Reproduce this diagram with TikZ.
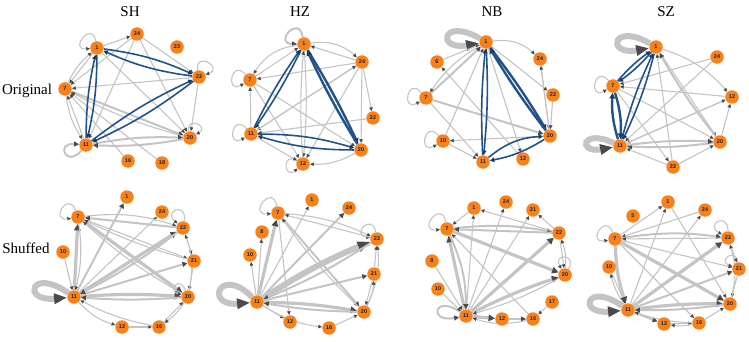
\documentclass[tikz,border=0pt]{standalone}
\usepackage{fontspec}
\setmainfont{Liberation Serif}
\setsansfont{Liberation Sans}
\usepackage{xcolor}
\usepackage{tikz}
\usetikzlibrary{arrows.meta,backgrounds}
\definecolor{netOrange}{HTML}{F7821B}
\definecolor{netGray}{HTML}{C4C4C4}
\definecolor{netTip}{HTML}{4A4A4A}
\definecolor{netBlue}{HTML}{22528A}
\definecolor{netInk}{HTML}{1E1E1E}
\begin{document}
\begin{tikzpicture}[
  x=1pt,y=-1pt,
  nd/.style={circle,fill=netOrange,inner sep=0pt,minimum size=13.5pt,font=\sffamily\bfseries\fontsize{5.5}{5.5}\selectfont,text=netInk},
  ttl/.style={font=\fontsize{15}{15}\selectfont,color=black},
  ed/.style={draw=netGray,line width=1.1pt,-{Triangle[length=3.8pt,width=3.4pt,color=netTip]}},
  edw/.style={draw=netGray,line width=2pt,-{Triangle[length=5pt,width=5pt,color=netTip]}},
  edx/.style={draw=netGray,line width=3.2pt,-{Triangle[length=6.5pt,width=6.5pt,color=netTip]}},
  edh/.style={draw=netGray,line width=6pt,-{Triangle[length=13pt,width=10pt,color=netTip]}},
  eb/.style={draw=netBlue,line width=1.6pt,-{Triangle[length=4.5pt,width=4.5pt,color=netBlue!70!black]}},
  ebw/.style={draw=netBlue,line width=2.4pt,-{Triangle[length=5.5pt,width=5.5pt,color=netBlue!70!black]}}
]
  \useasboundingbox (0,0) rectangle (749,342);
  % titles
  \node[ttl] (tSH) at (130,12) {SH};
  \node[ttl] (tHZ) at (300,12) {HZ};
  \node[ttl] (tNB) at (492,12) {NB};
  \node[ttl] (tSZ) at (666,12) {SZ};
  \node[ttl] (tOrig) at (27,91) {Original};
  \node[ttl] (tShuf) at (26,248) {Shuffed};

  % SH original
  \node[nd] (osh1) at (97,48) {1};
  \node[nd] (osh24) at (137,34) {24};
  \node[nd] (osh23) at (177,47) {23};
  \node[nd] (osh22) at (199,77) {22};
  \node[nd] (osh7) at (65,89) {7};
  \node[nd] (osh20) at (190,138) {20};
  \node[nd] (osh11) at (86,145) {11};
  \node[nd] (osh16) at (128,161) {16};
  \node[nd] (osh18) at (162,163) {18};
  % HZ original
  \node[nd] (ohz1) at (304,44) {1};
  \node[nd] (ohz24) at (362,62) {24};
  \node[nd] (ohz7) at (250,80) {7};
  \node[nd] (ohz22) at (373,118) {22};
  \node[nd] (ohz11) at (251,134) {11};
  \node[nd] (ohz20) at (361,150) {20};
  \node[nd] (ohz12) at (303,164) {12};
  % NB original
  \node[nd] (onb1) at (486,42) {1};
  \node[nd] (onb6) at (437,62) {6};
  \node[nd] (onb24) at (540,59) {24};
  \node[nd] (onb7) at (426,98) {7};
  \node[nd] (onb22) at (553,95) {22};
  \node[nd] (onb10) at (443,141) {10};
  \node[nd] (onb20) at (550,136) {20};
  \node[nd] (onb11) at (483,162) {11};
  \node[nd] (onb12) at (523,159) {12};
  % SZ original
  \node[nd] (osz1) at (656,47) {1};
  \node[nd] (osz24) at (717,57) {24};
  \node[nd] (osz7) at (613,86) {7};
  \node[nd] (osz12) at (732,97) {12};
  \node[nd] (osz20) at (720,142) {20};
  \node[nd] (osz11) at (620,146) {11};
  \node[nd] (osz22) at (673,167) {22};

  % SH shuffled
  \node[nd] (ssh1) at (127,197) {1};
  \node[nd] (ssh7) at (78,217) {7};
  \node[nd] (ssh24) at (162,212) {24};
  \node[nd] (ssh22) at (183,228) {22};
  \node[nd] (ssh10) at (63,252) {10};
  \node[nd] (ssh21) at (194,261) {21};
  \node[nd] (ssh11) at (74,297) {11};
  \node[nd] (ssh20) at (188,297) {20};
  \node[nd] (ssh12) at (122,327) {12};
  \node[nd] (ssh16) at (159,327) {16};
  % HZ shuffled
  \node[nd] (shz1) at (312,200) {1};
  \node[nd] (shz7) at (278,213) {7};
  \node[nd] (shz24) at (349,208) {24};
  \node[nd] (shz8) at (262,232) {8};
  \node[nd] (shz22) at (377,239) {22};
  \node[nd] (shz10) at (250,255) {10};
  \node[nd] (shz21) at (374,274) {21};
  \node[nd] (shz11) at (257,302) {11};
  \node[nd] (shz20) at (364,312) {20};
  \node[nd] (shz12) at (290,322) {12};
  \node[nd] (shz16) at (329,328) {16};
  % NB shuffled
  \node[nd] (snb1) at (474,208) {1};
  \node[nd] (snb24) at (506,202) {24};
  \node[nd] (snb21) at (533,210) {21};
  \node[nd] (snb7) at (447,229) {7};
  \node[nd] (snb22) at (559,233) {22};
  \node[nd] (snb8) at (432,261) {8};
  \node[nd] (snb20) at (565,275) {20};
  \node[nd] (snb10) at (438,289) {10};
  \node[nd] (snb17) at (552,302) {17};
  \node[nd] (snb11) at (466,316) {11};
  \node[nd] (snb12) at (502,319) {12};
  \node[nd] (snb16) at (533,319) {16};
  % SZ shuffled
  \node[nd] (ssz1) at (668,202) {1};
  \node[nd] (ssz5) at (633,216) {5};
  \node[nd] (ssz24) at (705,210) {24};
  \node[nd] (ssz7) at (615,239) {7};
  \node[nd] (ssz22) at (728,238) {22};
  \node[nd] (ssz10) at (609,267) {10};
  \node[nd] (ssz21) at (739,269) {21};
  \node[nd] (ssz11) at (628,310) {11};
  \node[nd] (ssz20) at (730,304) {20};
  \node[nd] (ssz12) at (664,324) {12};
  \node[nd] (ssz16) at (699,323) {16};

  \begin{scope}[on background layer]
  % SH original edges
  \draw[ed] (osh1) to[out=100,in=185,min distance=22pt] (osh1);
  \draw[ed] (osh22) to[out=100,in=20,min distance=20pt] (osh22);
  \draw[ed] (osh20) to[out=100,in=30,min distance=16pt] (osh20);
  \draw[edw] (osh11) to[out=230,in=175,min distance=24pt] (osh11);
  \draw[ed] (osh1) -- (osh24);
  \draw[ed] (osh24) -- (osh7);
  \draw[ed] (osh24) -- (osh11);
  \draw[ed] (osh24) -- (osh20);
  \draw[ed] (osh24) -- (osh22);
  \draw[ed] (osh1) -- (osh7);
  \draw[ed] (osh7) to[bend left=12] (osh1);
  \draw[ed] (osh22) -- (osh7);
  \draw[ed] (osh1) -- (osh20);
  \draw[edw] (osh7) -- (osh20);
  \draw[ed] (osh20) to[bend left=6] (osh7);
  \draw[ed] (osh22) -- (osh20);
  \draw[edw] (osh11) to[bend left=6] (osh20);
  \draw[edw] (osh20) to[bend left=6] (osh11);
  \draw[ed] (osh16) -- (osh7);
  \draw[ed] (osh18) -- (osh7);
  \draw[ed] (osh7) to[bend right=12] (osh11);
  \draw[ed] (osh11) -- (osh7);
  \draw[eb] (osh1) to[bend left=8] (osh22);
  \draw[eb] (osh22) to[bend left=8] (osh1);
  \draw[eb] (osh1) to[bend left=6] (osh11);
  \draw[eb] (osh11) to[bend left=6] (osh1);
  \draw[eb] (osh11) to[bend left=6] (osh22);
  \draw[eb] (osh22) to[bend left=6] (osh11);

  % HZ original edges
  \draw[edw] (ohz1) to[out=100,in=180,min distance=24pt] (ohz1);
  \draw[ed] (ohz7) to[out=130,in=210,min distance=22pt] (ohz7);
  \draw[ed] (ohz11) to[out=130,in=210,min distance=22pt] (ohz11);
  \draw[ed] (ohz12) to[out=150,in=220,min distance=18pt] (ohz12);
  \draw[ed] (ohz1) to[bend left=25] (ohz24);
  \draw[ed] (ohz24) -- (ohz1);
  \draw[ed] (ohz24) -- (ohz7);
  \draw[ed] (ohz24) -- (ohz11);
  \draw[ed] (ohz24) -- (ohz12);
  \draw[ed] (ohz24) -- (ohz20);
  \draw[ed] (ohz24) -- (ohz22);
  \draw[ed] (ohz7) -- (ohz1);
  \draw[ed] (ohz1) to[bend right=25] (ohz7);
  \draw[ed] (ohz7) -- (ohz20);
  \draw[ed] (ohz7) -- (ohz12);
  \draw[ed] (ohz11) -- (ohz7);
  \draw[ed] (ohz1) to[bend left=4] (ohz12);
  \draw[ed] (ohz12) to[bend left=4] (ohz1);
  \draw[ed] (ohz11) -- (ohz12);
  \draw[ed] (ohz20) to[bend left=15] (ohz12);
  \draw[ed] (ohz22) -- (ohz11);
  \draw[ed] (ohz11) -- (ohz24);
  \draw[ebw] (ohz1) to[bend left=3] (ohz20);
  \draw[ebw] (ohz20) to[bend left=3] (ohz1);
  \draw[eb] (ohz1) to[bend left=4] (ohz11);
  \draw[eb] (ohz11) to[bend left=4] (ohz1);
  \draw[eb] (ohz11) to[bend left=8] (ohz20);
  \draw[eb] (ohz20) to[bend left=8] (ohz11);

  % NB original edges
  \draw[edh] (onb1) to[out=150,in=190,min distance=44pt] (onb1);
  \draw[ed] (onb7) to[out=130,in=210,min distance=22pt] (onb7);
  \draw[ed] (onb10) to[out=130,in=210,min distance=22pt] (onb10);
  \draw[ed] (onb1) to[bend left=25] (onb24);
  \draw[ed] (onb6) -- (onb1);
  \draw[edw] (onb7) -- (onb1);
  \draw[ed] (onb1) to[bend right=12] (onb7);
  \draw[ed] (onb10) -- (onb1);
  \draw[ed] (onb1) -- (onb12);
  \draw[edw] (onb7) -- (onb20);
  \draw[ed] (onb7) -- (onb11);
  \draw[ed] (onb20) -- (onb10);
  \draw[ed] (onb12) -- (onb6);
  \draw[ed] (onb24) -- (onb20);
  \draw[ed] (onb22) -- (onb20);
  \draw[ed] (onb20) -- (onb24);
  \draw[ed] (onb1) -- (onb22);
  \draw[ed] (onb10) -- (onb11);
  \draw[eb] (onb1) to[bend left=4] (onb11);
  \draw[eb] (onb11) to[bend left=4] (onb1);
  \draw[ebw] (onb1) to[bend left=3] (onb20);
  \draw[ebw] (onb20) to[bend left=3] (onb1);
  \draw[eb] (onb11) to[bend left=18] (onb20);
  \draw[eb] (onb20) to[bend left=10] (onb11);

  % SZ original edges
  \draw[edh] (osz1) to[out=150,in=190,min distance=44pt] (osz1);
  \draw[ed] (osz7) to[out=130,in=210,min distance=22pt] (osz7);
  \draw[edh] (osz11) to[out=155,in=190,min distance=36pt] (osz11);
  \draw[ed] (osz1) to[bend left=15] (osz12);
  \draw[ed] (osz24) -- (osz7);
  \draw[ed] (osz24) -- (osz11);
  \draw[ed] (osz1) -- (osz20);
  \draw[edw] (osz20) to[bend left=4] (osz1);
  \draw[ed] (osz12) -- (osz11);
  \draw[ed] (osz12) -- (osz7);
  \draw[edw] (osz20) to[bend left=5] (osz11);
  \draw[edw] (osz11) to[bend left=5] (osz20);
  \draw[ed] (osz22) -- (osz1);
  \draw[ed] (osz22) -- (osz11);
  \draw[ed] (osz22) -- (osz20);
  \draw[ed] (osz7) -- (osz22);
  \draw[ed] (osz7) -- (osz20);
  \draw[ed] (osz11) -- (osz12);
  \draw[ed] (osz20) -- (osz12);
  \draw[eb] (osz1) to[bend left=6] (osz7);
  \draw[eb] (osz7) to[bend left=6] (osz1);
  \draw[eb] (osz1) to[bend left=5] (osz11);
  \draw[eb] (osz11) to[bend left=5] (osz1);
  \draw[ebw] (osz7) to[bend left=10] (osz11);
  \draw[ebw] (osz11) to[bend left=10] (osz7);

  % SH shuffled edges
  \draw[ed] (ssh7) to[out=110,in=190,min distance=22pt] (ssh7);
  \draw[edh] (ssh11) to[out=145,in=185,min distance=46pt] (ssh11);
  \draw[ed] (ssh22) to[out=80,in=140,min distance=20pt] (ssh22);
  \draw[ed] (ssh20) to[out=110,in=160,min distance=16pt] (ssh20);
  \draw[edx] (ssh11) -- (ssh7);
  \draw[ed] (ssh7) to[bend left=10] (ssh11);
  \draw[edw] (ssh11) -- (ssh1);
  \draw[ed] (ssh11) -- (ssh24);
  \draw[edx] (ssh11) -- (ssh22);
  \draw[edw] (ssh11) -- (ssh21);
  \draw[edx] (ssh11) to[bend left=4] (ssh20);
  \draw[edw] (ssh20) to[bend left=4] (ssh11);
  \draw[edw] (ssh22) to[bend left=5] (ssh11);
  \draw[ed] (ssh7) to[bend left=12] (ssh22);
  \draw[edw] (ssh22) -- (ssh7);
  \draw[edx] (ssh7) -- (ssh20);
  \draw[ed] (ssh7) -- (ssh21);
  \draw[ed] (ssh21) to[bend left=5] (ssh7);
  \draw[ed] (ssh10) -- (ssh11);
  \draw[ed] (ssh11) to[bend right=15] (ssh12);
  \draw[ed] (ssh12) -- (ssh16);
  \draw[ed] (ssh16) -- (ssh20);
  \draw[ed] (ssh20) to[bend left=10] (ssh16);
  \draw[ed] (ssh16) to[bend left=8] (ssh11);
  \draw[ed] (ssh22) -- (ssh21);
  \draw[ed] (ssh21) -- (ssh20);
  \draw[ed] (ssh20) to[bend right=15] (ssh22);
  \draw[ed] (ssh20) to[bend left=6] (ssh7);

  % HZ shuffled edges
  \draw[ed] (shz7) to[out=100,in=185,min distance=24pt] (shz7);
  \draw[edh] (shz11) to[out=135,in=185,min distance=46pt] (shz11);
  \draw[ed] (shz22) to[out=100,in=170,min distance=20pt] (shz22);
  \draw[edx] (shz11) -- (shz7);
  \draw[ed] (shz11) -- (shz8);
  \draw[ed] (shz11) -- (shz10);
  \draw[ed] (shz11) -- (shz1);
  \draw[edw] (shz11) -- (shz24);
  \draw[edh] (shz11) to[bend left=5] (shz22);
  \draw[edw] (shz22) to[bend left=5] (shz11);
  \draw[edw] (shz11) -- (shz21);
  \draw[edx] (shz11) to[bend left=4] (shz20);
  \draw[edw] (shz20) to[bend left=4] (shz11);
  \draw[ed] (shz7) to[bend left=10] (shz22);
  \draw[ed] (shz22) -- (shz7);
  \draw[edw] (shz7) -- (shz20);
  \draw[ed] (shz20) to[bend left=5] (shz7);
  \draw[ed] (shz11) -- (shz12);
  \draw[ed] (shz7) -- (shz12);
  \draw[ed] (shz16) -- (shz20);
  \draw[ed] (shz11) to[bend right=12] (shz16);
  \draw[ed] (shz21) -- (shz22);
  \draw[ed] (shz20) to[bend right=15] (shz22);
  \draw[ed] (shz21) -- (shz20);
  \draw[ed] (shz20) to[bend right=12] (shz21);

  % NB shuffled edges
  \draw[ed] (snb7) to[out=100,in=185,min distance=24pt] (snb7);
  \draw[edw] (snb11) to[out=145,in=190,min distance=32pt] (snb11);
  \draw[ed] (snb20) to[out=60,in=120,min distance=18pt] (snb20);
  \draw[ed] (snb1) -- (snb7);
  \draw[ed] (snb11) -- (snb1);
  \draw[ed] (snb11) -- (snb24);
  \draw[ed] (snb11) -- (snb21);
  \draw[edx] (snb11) -- (snb22);
  \draw[edx] (snb11) to[bend left=4] (snb20);
  \draw[edx] (snb11) -- (snb7);
  \draw[edw] (snb7) to[bend left=12] (snb11);
  \draw[edw] (snb7) to[bend left=8] (snb22);
  \draw[edw] (snb22) -- (snb7);
  \draw[edx] (snb7) -- (snb20);
  \draw[ed] (snb22) -- (snb1);
  \draw[ed] (snb8) -- (snb11);
  \draw[ed] (snb10) -- (snb11);
  \draw[ed] (snb17) -- (snb16);
  \draw[ed] (snb20) to[bend left=6] (snb11);
  \draw[edx] (snb11) -- (snb12);
  \draw[edw] (snb12) -- (snb16);
  \draw[ed] (snb16) to[bend left=15] (snb11);
  \draw[ed] (snb16) -- (snb7);
  \draw[ed] (snb22) -- (snb20);
  \draw[ed] (snb20) to[bend right=12] (snb22);
  \draw[ed] (snb22) -- (snb21);

  % SZ shuffled edges
  \draw[ed] (ssz7) to[out=110,in=190,min distance=22pt] (ssz7);
  \draw[edh] (ssz11) to[out=145,in=185,min distance=44pt] (ssz11);
  \draw[ed] (ssz22) to[out=90,in=150,min distance=20pt] (ssz22);
  \draw[ed] (ssz21) to[out=100,in=160,min distance=16pt] (ssz21);
  \draw[ed] (ssz7) -- (ssz1);
  \draw[ed] (ssz24) -- (ssz7);
  \draw[ed] (ssz11) -- (ssz1);
  \draw[ed] (ssz11) -- (ssz24);
  \draw[edx] (ssz11) -- (ssz22);
  \draw[edw] (ssz11) -- (ssz21);
  \draw[edx] (ssz11) to[bend left=4] (ssz20);
  \draw[edw] (ssz20) to[bend left=4] (ssz11);
  \draw[edw] (ssz7) to[bend left=8] (ssz22);
  \draw[ed] (ssz22) -- (ssz7);
  \draw[edx] (ssz7) -- (ssz20);
  \draw[ed] (ssz7) -- (ssz21);
  \draw[ed] (ssz10) -- (ssz11);
  \draw[ed] (ssz11) to[bend left=10] (ssz10);
  \draw[edw] (ssz11) -- (ssz12);
  \draw[ed] (ssz12) -- (ssz16);
  \draw[ed] (ssz16) to[bend left=10] (ssz12);
  \draw[ed] (ssz16) -- (ssz20);
  \draw[ed] (ssz16) to[bend left=8] (ssz11);
  \draw[ed] (ssz1) -- (ssz20);
  \draw[ed] (ssz7) -- (ssz16);
  \draw[ed] (ssz22) -- (ssz21);
  \draw[ed] (ssz21) -- (ssz20);
  \draw[ed] (ssz20) to[bend right=15] (ssz22);
  \draw[edx] (ssz7) to[bend right=8] (ssz11);
  \end{scope}
\end{tikzpicture}
\end{document}
